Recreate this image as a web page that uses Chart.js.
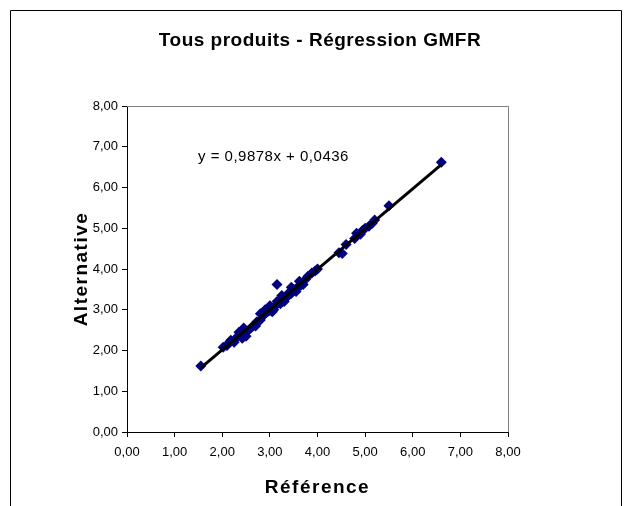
<!DOCTYPE html>
<html>
<head>
<meta charset="utf-8">
<script src="https://cdn.jsdelivr.net/npm/chart.js@4.4.0/dist/chart.umd.min.js"></script>
<style>
  html, body { margin: 0; padding: 0; background: #fff; }
  #wrap { width: 628px; height: 506px; }
</style>
</head>
<body>
<div id="wrap"><canvas id="chart" width="628" height="506"></canvas></div>
<script>
// Reference (x) and Alternative (y) values
const referenceValues = [1.55, 2.02, 2.10, 2.15, 2.18, 2.25, 2.30, 2.35, 2.38, 2.42, 2.45, 2.50, 2.55, 2.60, 2.65,
  2.70, 2.72, 2.80, 2.80, 2.85, 2.90, 2.90, 2.95, 3.00, 3.00, 3.02, 3.05, 3.08, 3.12, 3.15, 3.15, 3.22, 3.25,
  3.28, 3.30, 3.35, 3.40, 3.45, 3.45, 3.50, 3.55,
  3.58, 3.62, 3.65, 3.70, 3.75, 3.80, 3.88, 3.95, 4.00,
  4.45, 4.52, 4.60, 4.78, 4.82, 4.90, 4.95, 5.00, 5.08, 5.15, 5.20, 5.50, 6.60];
const alternativeValues = [1.62, 2.08, 2.12, 2.20, 2.25, 2.20, 2.32, 2.45, 2.38, 2.30, 2.55, 2.35, 2.50, 2.55, 2.60,
  2.60, 2.70, 2.75, 2.90, 2.85, 2.90, 3.00, 2.95, 2.98, 3.10, 3.05, 2.95, 3.00, 3.10, 3.20, 3.62, 3.15, 3.35,
  3.30, 3.20, 3.30, 3.42, 3.40, 3.55, 3.50, 3.45,
  3.55, 3.70, 3.60, 3.62, 3.75, 3.82, 3.90, 3.95, 4.00,
  4.40, 4.38, 4.60, 4.75, 4.88, 4.85, 4.95, 5.00, 5.05, 5.12, 5.20, 5.55, 6.62];
const axisTicks = [0, 1, 2, 3, 4, 5, 6, 7, 8];

// GMFR regression shown on the chart
const slope = 0.9878;
const intercept = 0.0436;
const equationText = 'y = 0,9878x + 0,0436';
const equationAt = { x: 1.49, y: 6.76 };

const chartTitle = 'Tous produits - Régression GMFR';
const xTitle = 'Référence';
const yTitle = 'Alternative';

const points = referenceValues.map((x, i) => ({ x, y: alternativeValues[i] }));
const xMin = Math.min(...referenceValues);
const xMax = Math.max(...referenceValues);
const trend = [xMin, xMax].map(x => ({ x, y: slope * x + intercept }));

const fmt = v => Number(v).toFixed(2).replace('.', ',');
const FONT = "'Liberation Sans', Arial, sans-serif";

// frame, plot border, titles and equation label
const decorations = {
  id: 'decorations',
  beforeDraw(chart) {
    const { ctx } = chart;
    ctx.save();
    ctx.fillStyle = '#fff';
    ctx.fillRect(0, 0, chart.width, chart.height);
    ctx.strokeStyle = '#000';
    ctx.lineWidth = 1;
    ctx.beginPath();
    ctx.moveTo(10.5, 506);
    ctx.lineTo(10.5, 10.5);
    ctx.lineTo(621.5, 10.5);
    ctx.lineTo(621.5, 506);
    ctx.stroke();
    ctx.restore();
  },
  afterDraw(chart) {
    const { ctx, chartArea: a, scales } = chart;
    ctx.save();
    ctx.strokeStyle = '#808080';
    ctx.lineWidth = 1;
    ctx.beginPath();
    ctx.moveTo(a.left, a.top + 0.5);
    ctx.lineTo(a.right + 0.5, a.top + 0.5);
    ctx.lineTo(a.right + 0.5, a.bottom);
    ctx.stroke();

    ctx.fillStyle = '#000';
    ctx.textBaseline = 'middle';

    // equation of the trend line
    ctx.font = '15px ' + FONT;
    ctx.textAlign = 'left';
    ctx.letterSpacing = '0.5px';
    ctx.fillText(equationText, scales.x.getPixelForValue(equationAt.x), scales.y.getPixelForValue(equationAt.y));

    // titles
    ctx.textAlign = 'center';
    ctx.font = 'bold 19px ' + FONT;
    ctx.letterSpacing = '0.5px';
    ctx.fillText(chartTitle, 320, 41);

    ctx.font = 'bold 19px ' + FONT;
    ctx.letterSpacing = '1.5px';
    ctx.fillText(xTitle, (a.left + a.right) / 2, 488);

    ctx.translate(82, (a.top + a.bottom) / 2);
    ctx.rotate(-Math.PI / 2);
    ctx.fillText(yTitle, 0, 0);
    ctx.restore();
  }
};

const axisCommon = {
  type: 'linear',
  min: 0,
  max: 8,
  afterBuildTicks: (scale) => { scale.ticks = axisTicks.map(v => ({ value: v })); },
  border: { display: true, color: '#000', width: 1 },
  grid: { display: true, drawOnChartArea: false, drawTicks: true, tickLength: 5, color: '#000' },
};

new Chart(document.getElementById('chart'), {
  type: 'scatter',
  data: {
    datasets: [
      {
        label: 'Régression',
        type: 'line',
        data: trend,
        borderColor: '#000',
        borderWidth: 3,
        pointRadius: 0,
        fill: false,
        order: 0,
      },
      {
        label: 'Produits',
        data: points,
        pointStyle: 'rectRot',
        pointRadius: 5.5,
        backgroundColor: '#000080',
        borderColor: '#000080',
        borderWidth: 0,
        order: 1,
      },
    ],
  },
  options: {
    responsive: false,
    animation: false,
    layout: { padding: { left: 0, right: 120, top: 106, bottom: 0 } },
    plugins: {
      legend: { display: false },
      tooltip: { enabled: false },
      title: { display: false },
    },
    scales: {
      x: {
        ...axisCommon,
        position: 'bottom',
        afterFit: (s) => { s.height = 74; },
        ticks: { color: '#000', font: { family: FONT, size: 13 }, padding: 8, maxRotation: 0, callback: fmt },
      },
      y: {
        ...axisCommon,
        position: 'left',
        afterFit: (s) => { s.width = 127; },
        ticks: { color: '#000', font: { family: FONT, size: 13 }, padding: 4, callback: fmt },
      },
    },
  },
  plugins: [decorations],
});
</script>
</body>
</html>
